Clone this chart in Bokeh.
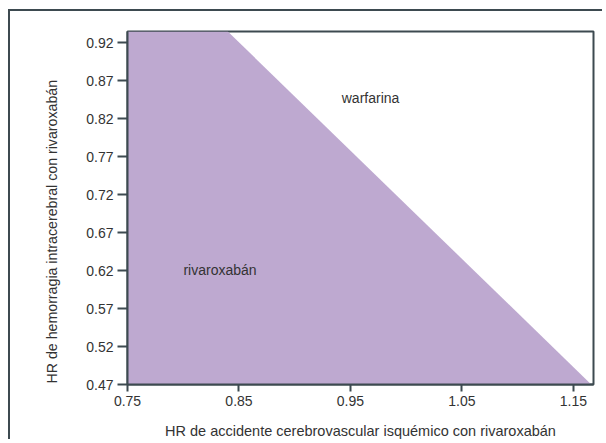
from bokeh.plotting import figure
from bokeh.models import FixedTicker, Label, Range1d, CustomJSTickFormatter, Title
from bokeh.embed import file_html
from bokeh.resources import INLINE

# Data
x_ticks = [0.75, 0.85, 0.95, 1.05, 1.15]
y_ticks = [0.47, 0.52, 0.57, 0.62, 0.67, 0.72, 0.77, 0.82, 0.87, 0.92]
x_range = [0.75, 1.168]
y_range = [0.47, 0.935]
# Region where rivaroxaban is preferred (boundary polygon)
region_x = [0.75, 0.75, 0.84, 1.166]
region_y = [0.47, 0.935, 0.935, 0.47]
region_labels = ["warfarina", "rivaroxabán"]
label_x = [0.968, 0.833]
label_y = [0.848, 0.621]
x_title = "HR de accidente cerebrovascular isquémico con rivaroxabán"
y_title = "HR de hemorragia intracerebral con rivaroxabán"

FONT = "Liberation Sans"
DARK = "#3d4a50"
TEXT = "#333333"

p = figure(width=594, height=430, output_backend="svg", toolbar_location=None,
           x_range=Range1d(*x_range), y_range=Range1d(*y_range),
           min_border_left=117, min_border_right=11, min_border_top=20, min_border_bottom=57)
p.styles = {"margin": "9px 0px 0px 8px",
            "border-top": "2px solid #3d4a50", "border-left": "2px solid #3d4a50"}
p.grid.visible = False
p.background_fill_color = "white"
p.border_fill_color = "white"
p.outline_line_color = DARK
p.outline_line_width = 2

p.patch(region_x, region_y, fill_color="#bea9d0", line_color=None)

for lab, lx, ly in zip(region_labels, label_x, label_y):
    p.add_layout(Label(x=lx, y=ly, text=lab, text_align="center", text_baseline="middle",
                       text_font=FONT, text_font_size="14px", text_color=TEXT))

for ax in (p.xaxis[0], p.yaxis[0]):
    ax.axis_line_color = DARK
    ax.axis_line_width = 2
    ax.major_tick_line_color = DARK
    ax.major_tick_line_width = 2
    ax.minor_tick_line_color = None
    ax.major_tick_in = 0
    ax.major_label_text_font = FONT
    ax.major_label_text_font_size = "14px"
    ax.major_label_text_color = TEXT
    ax.axis_label_text_font = FONT
    ax.axis_label_text_font_size = "14.5px"
    ax.axis_label_text_font_style = "normal"
    ax.axis_label_text_color = TEXT
    ax.formatter = CustomJSTickFormatter(code="return tick.toFixed(2);")

p.xaxis.ticker = FixedTicker(ticks=x_ticks)
p.yaxis.ticker = FixedTicker(ticks=y_ticks)
p.xaxis.major_tick_out = 7
p.yaxis.major_tick_out = 10
p.xaxis.major_label_standoff = 4
p.yaxis.major_label_standoff = 4
p.xaxis.axis_label = x_title
p.xaxis.axis_label_standoff = 14

# y-axis title as a side title, anchored at the bottom of the frame
p.add_layout(Title(text=y_title, align="left", offset=1, standoff=47,
                   text_font=FONT, text_font_size="14.2px", text_font_style="normal",
                   text_color=TEXT), "left")

open("out.html", "w").write(file_html(p, INLINE))
